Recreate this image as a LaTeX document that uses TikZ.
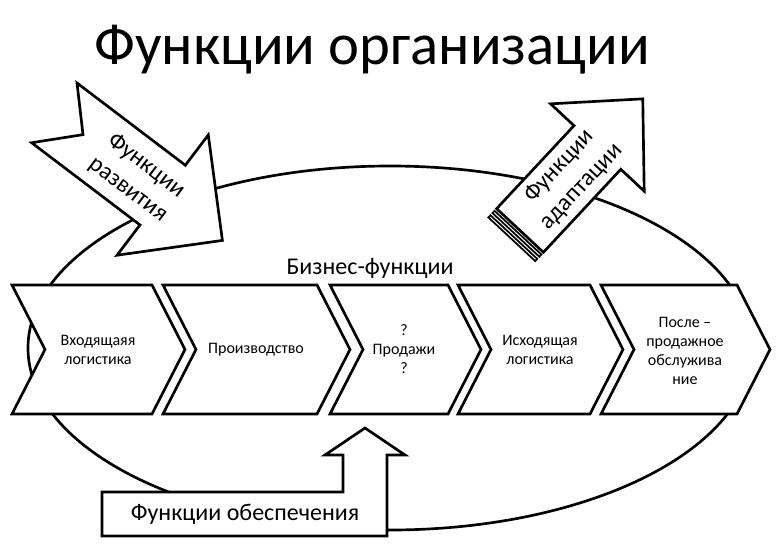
\documentclass[tikz,border=0pt]{standalone}
\usepackage{fontspec}
\setmainfont{Carlito}
\begin{document}
\begin{tikzpicture}[x=0.75pt,y=-0.75pt,line width=2pt,
  block/.style={draw,fill=white},
  chevtext/.style={font=\fontsize{12}{14.3}\selectfont,align=center},
  bigtext/.style={font=\fontsize{18}{22.5}\selectfont,align=center}]
 \useasboundingbox (0,0) rectangle (777,556);
 \node[font=\fontsize{44}{50}\selectfont,anchor=base] (title) at (372,65) {Функции организации};
 \draw (390,348) ellipse [x radius=362,y radius=182];
 \foreach \l/\r in {12/152,163/317,330/448,458/590,601/737}
  \draw[block] (\l,285) -- (\r,285) -- ({\r+33},349.5) -- (\r,414) -- (\l,414) -- ({\l+33},349.5) -- cycle;
 \node[bigtext] (business) at (370,268) {Бизнес-функции};
 \node[chevtext] (inlog) at (98,350) {Входящаяя\\логистика};
 \node[chevtext] (prod) at (256,350) {Производство};
 \node[chevtext] (sales) at (404,349) {?\\Продажи\\?};
 \node[chevtext] (outlog) at (540,350) {Исходящая\\логистика};
 \node[chevtext] (service) at (685,351) {После –\\продажное\\обслужива\\ние};
 \begin{scope}[shift={(77,83)},rotate=-37.2]
  \draw[block] (0,0) -- (136,0) -- (136,-38) -- (211,37.5) -- (136,113) -- (136,75) -- (0,75) -- (36,37.5) -- cycle;
  \node[bigtext,rotate=-37.2] (develop) at (105,39) {Функции\\развития};
 \end{scope}
 \begin{scope}[shift={(520,230.5)},rotate=47]
  \draw[block] (0,-32) -- (113.5,-32) -- (113.5,-64) -- (180,0) -- (113.5,64) -- (113.5,32) -- (0,32) -- cycle;
  \draw[block,line width=1.3pt] (-3,-32) rectangle (-6,32) (-9,-32) rectangle (-12,32);
  \node[bigtext,rotate=47] (adapt) at (74,0) {Функции\\адаптации};
 \end{scope}
 \draw[block] (102,492) -- (343,492) -- (343,455) -- (325,455) -- (365,428) -- (405,455) -- (387,455) -- (387,536) -- (102,536) -- cycle;
 \node[bigtext] (support) at (245,514) {Функции обеспечения};
\end{tikzpicture}
\end{document}
